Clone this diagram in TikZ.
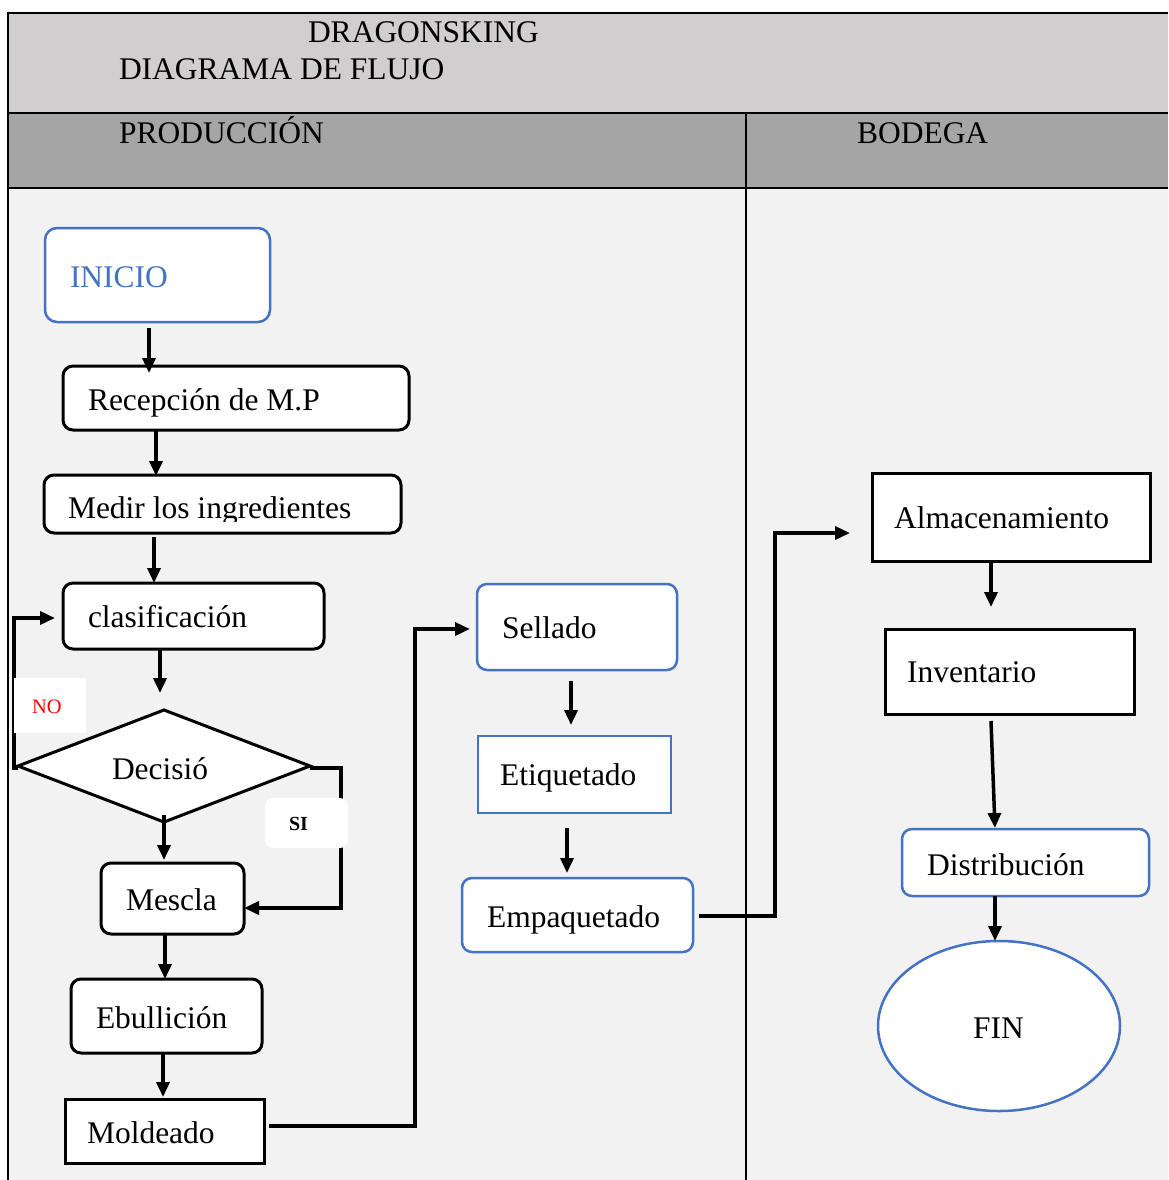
\documentclass[tikz,border=0pt]{standalone}
\usepackage{fontspec}
\setmainfont{Liberation Serif}
\usetikzlibrary{shapes.geometric,arrows.meta}
\definecolor{hdrlight}{HTML}{D0CECE}
\definecolor{hdrdark}{HTML}{A5A5A5}
\definecolor{bodybg}{HTML}{F2F2F2}
\definecolor{wblue}{HTML}{4472C4}
\tikzset{
  blk/.style={draw=black, line width=3pt, fill=white, inner sep=0pt, outer sep=0pt},
  blu/.style={draw=wblue, line width=2.5pt, fill=white, inner sep=0pt, outer sep=0pt},
  rnd/.style={rounded corners=10pt},
  txt/.style={anchor=base west, inner sep=0pt, outer sep=0pt, font=\fontsize{31.5pt}{36pt}\selectfont},
  small/.style={anchor=base west, inner sep=0pt, outer sep=0pt, font=\fontsize{20.5pt}{24pt}\selectfont},
  arr/.style={line width=3.5pt, -{Triangle[width=13pt,length=15pt]}},
  grid/.style={line width=2.2pt, draw=black},
  tag/.style={fill=white, draw=none, inner sep=0pt, outer sep=0pt}
}
\begin{document}
\begin{tikzpicture}[x=1pt,y=-1pt]
\useasboundingbox (0,0) rectangle (1168,1180);
% backgrounds
\fill[white] (0,0) rectangle (1168,1180);
\fill[hdrlight] (8,13) rectangle (1168,113);
\fill[hdrdark] (8,113) rectangle (1168,188);
\fill[bodybg] (8,188) rectangle (1168,1180);
% grid lines
\draw[grid] (8,13) -- (1168,13);
\draw[grid] (8,113) -- (1168,113);
\draw[grid] (8,188) -- (1168,188);
\draw[grid] (8,12) -- (8,1180);
\draw[grid] (746,113) -- (746,1180);
% header texts
\node[txt] (h1) at (308,43) {DRAGONSKING};
\node[txt] (h2) at (119,80) {DIAGRAMA DE FLUJO};
\node[txt] (h3) at (119,143) {PRODUCCIÓN};
\node[txt] (h4) at (857,143) {BODEGA};

% boxes
\node[blu, rounded corners=12pt, minimum width=225pt, minimum height=94pt] (inicio) at (157.5,275) {};
\node[blk, rnd, minimum width=346pt, minimum height=64pt] (recep) at (236,398) {};
\node[blk, rnd, minimum width=357pt, minimum height=58pt] (medir) at (222.5,504) {};
\node[blk, rnd, minimum width=261pt, minimum height=66pt] (clasif) at (193.5,616) {};
\node[blk, diamond, minimum width=292pt, minimum height=112pt] (dec) at (164,766) {};
\node[blk, rnd, minimum width=143pt, minimum height=71pt] (mescla) at (172.5,898.5) {};
\node[blk, rnd, minimum width=191pt, minimum height=74pt] (ebu) at (166.5,1016) {};
\node[blk, minimum width=199pt, minimum height=64pt] (mold) at (164.5,1131) {};
\node[blu, rnd, minimum width=200pt, minimum height=86pt] (sell) at (577,627) {};
\node[blu, minimum width=193pt, minimum height=77pt] (etiq) at (574.5,774.5) {};
\node[blu, rnd, minimum width=231pt, minimum height=74pt] (empaq) at (577.5,915) {};
\node[blk, minimum width=278pt, minimum height=88pt] (alm) at (1011,517) {};
\node[blk, minimum width=249pt, minimum height=85pt] (inv) at (1009.5,671.5) {};
\node[blu, rnd, minimum width=247pt, minimum height=67pt] (dist) at (1025.5,862.5) {};
\node[blu, ellipse, minimum width=242pt, minimum height=170pt] (fin) at (999,1026) {};

% texts
\node[txt, text=wblue] (tinicio) at (70,287) {INICIO};
\node[txt] (trecep) at (88,410) {Recepción de M.P};
\begin{scope}
\clip (medir.north west) rectangle ([yshift=12pt]medir.south east);
\node[txt] (tmedir) at (68,518) {Medir los ingredientes};
\end{scope}
\node[txt] (tclasif) at (88,627) {clasificación};
\node[txt] (tdec) at (112,779) {Decisió};
\node[txt] (tmescla) at (126,910) {Mescla};
\node[txt] (tebu) at (96,1028) {Ebullición};
\node[txt] (tmold) at (87,1143) {Moldeado};
\node[txt] (tsell) at (502,638) {Sellado};
\node[txt] (tetiq) at (500,785) {Etiquetado};
\node[txt] (tempaq) at (487,927) {Empaquetado};
\node[txt] (talm) at (894,528) {Almacenamiento};
\node[txt] (tinv) at (907,682) {Inventario};
\node[txt] (tdist) at (927,875) {Distribución};
\node[txt] (tfin) at (973,1038) {FIN};

% connectors
\draw[arr] ([xshift=-8.5pt,yshift=-6pt]inicio.south) -- ([xshift=-87pt,yshift=-7pt]recep.north);
\draw[arr] ([xshift=-80pt]recep.south) -- ([xshift=-66.5pt,yshift=-1pt]medir.north);
\draw[arr] ([xshift=-68.5pt,yshift=-4pt]medir.south) -- ([xshift=-39.5pt]clasif.north);
\draw[arr] ([xshift=-33.5pt]clasif.south) -- ([xshift=-4pt,yshift=17pt]dec.north);
\draw[arr] ([yshift=7pt]dec.south) -- ([xshift=-8.5pt,yshift=3pt]mescla.north);
\draw[arr] ([yshift=-2pt]dec.east) -- ++(31,0) |- ([yshift=-9.5pt]mescla.east);
\draw[arr] ([yshift=-2pt]dec.west) -- ++(-4,0) |- ([xshift=-8pt,yshift=-2pt]clasif.west);
\draw[arr] ([xshift=-7.5pt]mescla.south) -- ([xshift=-1.5pt]ebu.north);
\draw[arr] ([xshift=-3.5pt]ebu.south) -- ([xshift=-1.5pt,yshift=2pt]mold.north);
\draw[arr] ([xshift=5pt,yshift=5pt]mold.east) -- ++(146,0) |- ([xshift=-7pt,yshift=-2pt]sell.west);
\draw[arr] ([xshift=-6pt,yshift=-11pt]sell.south) -- ([xshift=-3.5pt,yshift=11pt]etiq.north);
\draw[arr] ([xshift=-7.5pt,yshift=-15pt]etiq.south) -- ([xshift=-10.5pt,yshift=5pt]empaq.north);
\draw[arr] ([xshift=6pt,yshift=-1pt]empaq.east) -- ++(76,0) |- ([xshift=-22pt,yshift=-16pt]alm.west);
\draw[arr] ([xshift=-20pt]alm.south) -- ([xshift=-18.5pt,yshift=22pt]inv.north);
\draw[arr] ([xshift=-18.5pt,yshift=-7pt]inv.south) -- ([xshift=-30.5pt,yshift=1pt]dist.north);
\draw[arr] ([xshift=-30.5pt]dist.south) -- ([xshift=-4pt]fin.north);

% labels NO / SI
\node[tag, minimum width=72pt, minimum height=55pt] (nobox) at (50,705.5) {};
\node[small, text=red] (tno) at (32,713) {NO};
\node[tag, rounded corners=8pt, minimum width=83pt, minimum height=50pt] (sibox) at (306.5,823) {};
\node[small, font=\fontsize{20pt}{24pt}\selectfont\bfseries] (tsi) at (289,830) {SI};
\end{tikzpicture}
\end{document}
